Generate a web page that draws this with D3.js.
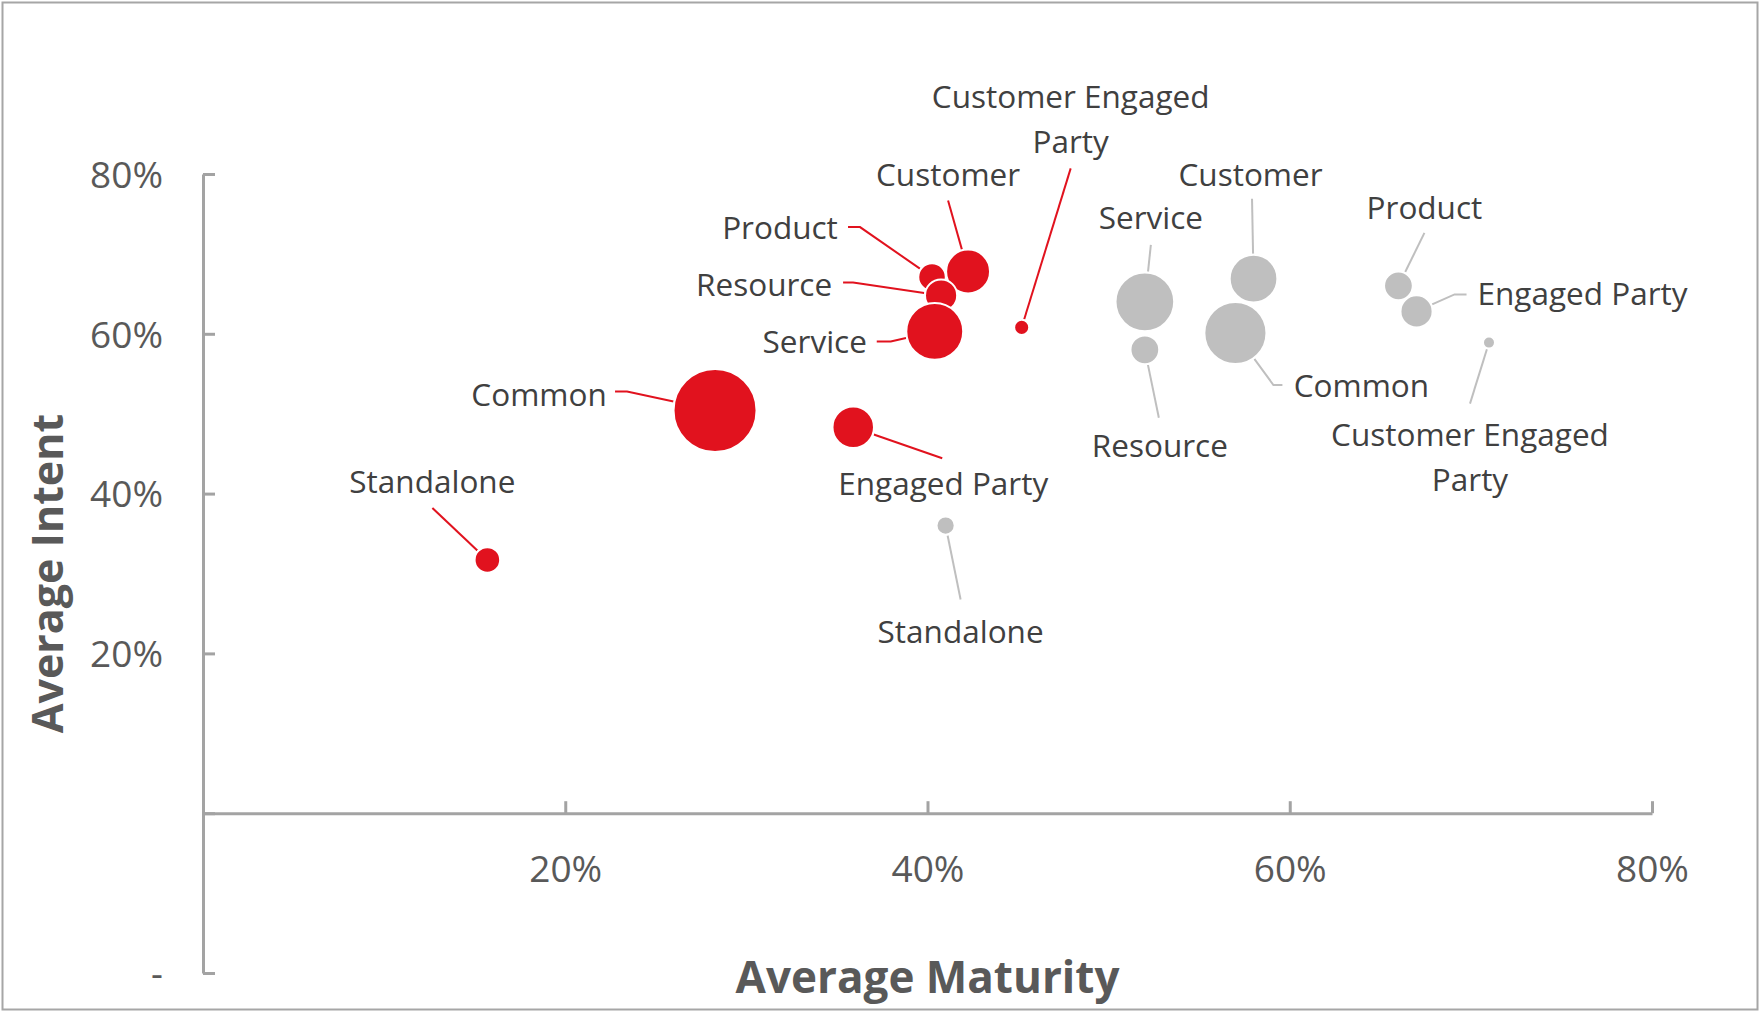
<!DOCTYPE html>
<html><head><meta charset="utf-8">
<script src="https://cdn.jsdelivr.net/npm/d3@7"></script>
<style>
html,body{margin:0;padding:0;background:#fff;}
svg{display:block;}
text{font-family:"Open Sans",sans-serif;}
</style>
</head><body>
<svg id="chart" width="1760" height="1012"></svg>
<script>
// ---------- DATA ----------
const redNames    = ["Standalone","Common","Engaged Party","Product","Customer","Resource","Service","Customer Engaged Party"];
const redMaturity = [0.157, 0.2827, 0.359, 0.4025, 0.4224, 0.4075, 0.404, 0.452];
const redIntent   = [0.317, 0.504, 0.483, 0.671, 0.678, 0.648, 0.603, 0.608];
const redSize     = [9.5, 100, 25, 11, 28, 15, 47, 3.3];

const grayNames    = ["Standalone","Customer","Common","Resource","Service","Product","Engaged Party","Customer Engaged Party"];
const grayMaturity = [0.410, 0.580, 0.570, 0.520, 0.520, 0.660, 0.670, 0.710];
const grayIntent   = [0.360, 0.669, 0.601, 0.580, 0.640, 0.660, 0.628, 0.589];
const graySize     = [4.8, 33, 56, 12, 50, 12, 15, 2.1];

const xTicks = [0, 0.2, 0.4, 0.6, 0.8];
const xTickLabels = ["", "20%", "40%", "60%", "80%"];
const yTicks = [-0.2, 0, 0.2, 0.4, 0.6, 0.8];
const yTickLabels = ["-", "", "20%", "40%", "60%", "80%"];

const xTitle = "Average Maturity";
const yTitle = "Average Intent";

// ---------- LAYOUT (label placement relative to bubble) ----------
const redLabelLayout = {
  "Standalone": {dx:-55, dy:-67, pts:[[-55,-52]]},
  "Common": {dx:-176, dy:-5, pts:[[-100,-19],[-88,-19]]},
  "Engaged Party": {dx:90, dy:68, pts:[[89,31]]},
  "Product": {dx:-152, dy:-38, pts:[[-84,-50],[-72,-50]]},
  "Customer": {dx:-20, dy:-85, pts:[[-20,-71]]},
  "Resource": {dx:-177, dy:1, pts:[[-98,-13],[-88,-13]]},
  "Service": {dx:-120, dy:22, pts:[[-58,10],[-44,10]]},
  "Customer Engaged Party": {dx:49, dy:-219, lines:["Customer Engaged","Party"], pts:[[49,-159]]}
};
const grayLabelLayout = {
  "Standalone": {dx:15, dy:117, pts:[[15,74]]},
  "Customer": {dx:-3, dy:-93, pts:[[-1.5,-80]]},
  "Common": {dx:126, dy:64, pts:[[47,52],[38,52]]},
  "Resource": {dx:15, dy:107, pts:[[14,68]]},
  "Service": {dx:6, dy:-73, pts:[[6,-57]]},
  "Product": {dx:26, dy:-67, pts:[[26,-53]]},
  "Engaged Party": {dx:166, dy:-6, pts:[[50,-17],[38,-17]]},
  "Customer Engaged Party": {dx:-19, dy:103, lines:["Customer Engaged","Party"], pts:[[-19,61]]}
};

const RED = "#E1121E", GRAY = "#BFBFBF", AXIS = "#A3A3A3";
const W = 1760, H = 1012;
const svg = d3.select("#chart");

svg.append("rect").attr("x",2.5).attr("y",2.5).attr("width",W-5).attr("height",H-5)
  .attr("fill","#fff").attr("stroke","#A6A6A6").attr("stroke-width",2);

const x = d3.scaleLinear().domain([0, 0.8]).range([203, 1652]);
const y = d3.scaleLinear().domain([-0.2, 0.8]).range([973, 174]);
const r = d3.scaleSqrt().domain([0, 100]).range([0, 41.5]);

// axes
const xAxis = d3.axisBottom(x).tickValues(xTicks)
  .tickFormat((d,i)=>xTickLabels[i]).tickSizeInner(-12).tickSizeOuter(0).tickPadding(43);
const yAxis = d3.axisLeft(y).tickValues(yTicks)
  .tickFormat((d,i)=>yTickLabels[i]).tickSizeInner(-12).tickSizeOuter(0).tickPadding(40);

const gx = svg.append("g").attr("transform",`translate(0,${y(0)})`).call(xAxis);
const gy = svg.append("g").attr("transform",`translate(${x(0)},0)`).call(yAxis);
[gx, gy].forEach(g=>{
  g.select(".domain").attr("stroke",AXIS).attr("stroke-width",3);
  g.selectAll(".tick line").attr("stroke",AXIS).attr("stroke-width",3);
  g.selectAll(".tick text").attr("fill","#595959").style("font-size","37px")
    .style("font-family","'Open Sans',sans-serif");
});
gy.selectAll(".tick text").attr("dy","0.36em");

// axis titles
svg.append("text").attr("x", (x.range()[0]+x.range()[1])/2).attr("y", 993)
  .attr("text-anchor","middle").attr("fill","#595959")
  .style("font-size","44px").style("font-weight","700").text(xTitle);
svg.append("text").attr("transform",`translate(63,${(y.range()[0]+y.range()[1])/2}) rotate(-90)`)
  .attr("text-anchor","middle").attr("fill","#595959")
  .style("font-size","43px").style("font-weight","700").text(yTitle);

function series(names, mx, iy, sz, color, layout){
  const data = names.map((n,i)=>({name:n, mx:mx[i], iy:iy[i], size:sz[i]}));
  const g = svg.append("g");
  // leader lines
  data.forEach(d=>{
    const cx = x(d.mx), cy = y(d.iy), rad = r(d.size);
    const L = layout[d.name];
    const pts = L.pts.map(p=>[cx+p[0], cy+p[1]]);
    const last = pts[pts.length-1];
    const ang = Math.atan2(last[1]-cy, last[0]-cx);
    pts.push([cx + Math.cos(ang)*(rad+1), cy + Math.sin(ang)*(rad+1)]);
    g.append("path").attr("d", d3.line()(pts)).attr("fill","none")
      .attr("stroke", color).attr("stroke-width",2);
  });
  // bubbles
  g.selectAll("circle").data(data).join("circle")
    .attr("cx",d=>x(d.mx)).attr("cy",d=>y(d.iy)).attr("r",d=>r(d.size))
    .attr("fill",color).attr("stroke","#fff").attr("stroke-width",2);
  // labels
  data.forEach(d=>{
    const cx = x(d.mx), cy = y(d.iy);
    const L = layout[d.name];
    const lines = L.lines || [d.name];
    const t = g.append("text").attr("text-anchor","middle").attr("fill","#404040")
      .style("font-size","31.5px");
    lines.forEach((ln,k)=>{
      t.append("tspan").attr("x", cx+L.dx).attr("y", cy+L.dy+k*45).text(ln);
    });
  });
}
series(redNames, redMaturity, redIntent, redSize, RED, redLabelLayout);
series(grayNames, grayMaturity, grayIntent, graySize, GRAY, grayLabelLayout);
</script>
</body></html>
